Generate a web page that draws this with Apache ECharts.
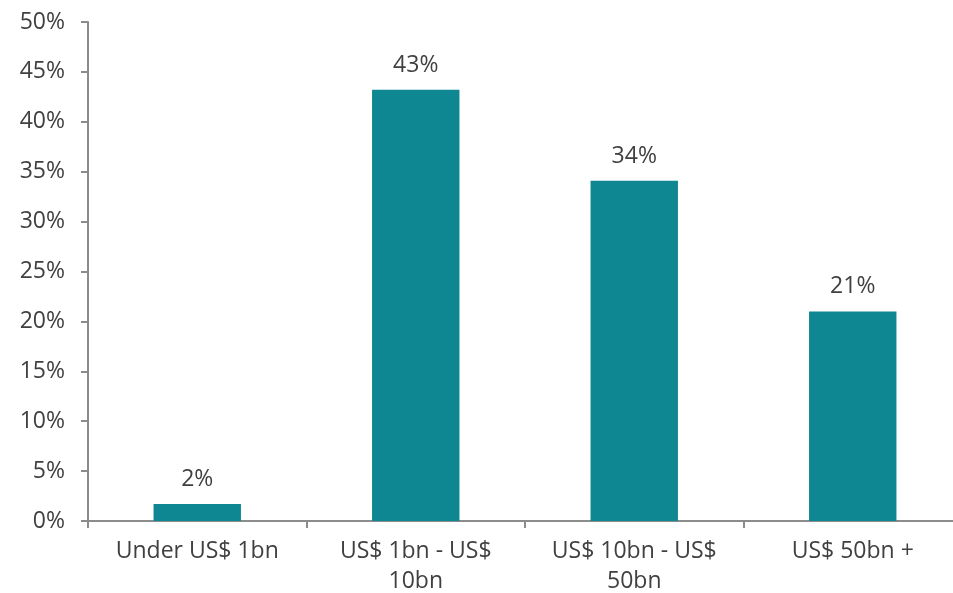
<!DOCTYPE html>
<html><head><meta charset="utf-8">
<script src="https://cdn.jsdelivr.net/npm/echarts@6/dist/echarts.min.js"></script>
<style>html,body{margin:0;padding:0;background:#fff}#c{width:953px;height:593px}</style>
</head><body><div id="c"></div>
<script>
const categories = ['Under US$ 1bn', 'US$ 1bn - US$\n10bn', 'US$ 10bn - US$\n50bn', 'US$ 50bn +'];
const values = [1.7, 43.2, 34.1, 21.0];
const labels = ['2%', '43%', '34%', '21%'];

const chart = echarts.init(document.getElementById('c'));
const font = 'Open Sans';
chart.setOption({
  animation: false,
  grid: { left: 88, width: 874, top: 22, bottom: 72, containLabel: false, outerBoundsMode: 'none' },
  xAxis: {
    type: 'category', data: categories,
    axisLine: { lineStyle: { color: '#8c8c8c', width: 2 } },
    axisTick: { show: true, length: 7, lineStyle: { color: '#8c8c8c', width: 2 } },
    axisLabel: { color: '#404040', fontSize: 23, fontFamily: font, margin: 15, lineHeight: 30, interval: 0 }
  },
  yAxis: {
    type: 'value', min: 0, max: 50, interval: 5,
    axisLine: { show: true, lineStyle: { color: '#8c8c8c', width: 2 } },
    axisTick: { show: true, length: 7, lineStyle: { color: '#8c8c8c', width: 2 } },
    splitLine: { show: false },
    axisLabel: { color: '#404040', fontSize: 23, fontFamily: font, margin: 23, formatter: v => v + '%' }
  },
  series: [{
    type: 'bar', data: values, barWidth: '40%',
    itemStyle: { color: '#0e8793' },
    label: { show: true, position: 'top', distance: 13, color: '#404040', fontSize: 23, fontFamily: font,
      formatter: p => labels[p.dataIndex] }
  }]
});
</script></body></html>
